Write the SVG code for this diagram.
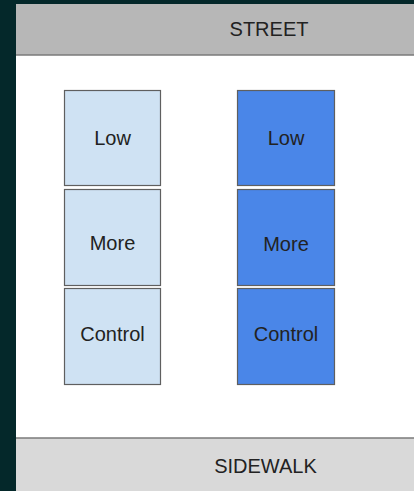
<svg xmlns="http://www.w3.org/2000/svg" width="414" height="491" viewBox="0 0 414 491">
<style>
text{font-family:"Liberation Sans",Arial,sans-serif;font-size:20px;fill:#222;text-anchor:middle;dominant-baseline:central}
.box{stroke:#5f5f5f;stroke-width:1.2}
.light{fill:#cfe2f3}
.dark{fill:#4a86e8}
</style>
<rect x="0" y="0" width="414" height="491" fill="#04282a"/>
<rect x="16" y="4" width="398" height="487" fill="#ffffff"/>
<g id="street">
<rect x="16" y="4" width="398" height="51" fill="#b7b7b7"/>
<line x1="16" y1="55" x2="414" y2="55" stroke="#7a7a7a" stroke-width="1.5"/>
<text x="269" y="29">STREET</text>
</g>
<g id="sidewalk">
<rect x="16" y="438" width="398" height="53" fill="#d9d9d9"/>
<line x1="16" y1="438" x2="414" y2="438" stroke="#7a7a7a" stroke-width="1.5"/>
<text x="265.5" y="466">SIDEWALK</text>
</g>
<g id="left-low"><rect class="box light" x="64.5" y="90.5" width="96" height="95"/><text x="112.5" y="138">Low</text></g>
<g id="left-more"><rect class="box light" x="64.5" y="189.5" width="96" height="96"/><text x="112.5" y="243">More</text></g>
<g id="left-control"><rect class="box light" x="64.5" y="288.5" width="96" height="96"/><text x="112.5" y="334">Control</text></g>
<g id="right-low"><rect class="box dark" x="237.5" y="90.5" width="97" height="95"/><text x="286" y="138">Low</text></g>
<g id="right-more"><rect class="box dark" x="237.5" y="189.5" width="97" height="96"/><text x="286" y="244">More</text></g>
<g id="right-control"><rect class="box dark" x="237.5" y="288.5" width="97" height="96"/><text x="286" y="334">Control</text></g>
<g id="connectors"/>
</svg>
